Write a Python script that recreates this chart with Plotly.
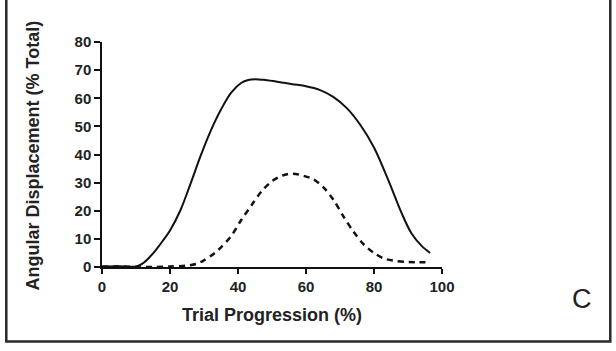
import plotly.graph_objects as go

# Data
solid_x = [0, 5, 10, 12, 14, 16, 18, 20, 23, 26, 29, 32, 35, 38, 41, 43, 45, 48, 52, 56, 60, 64, 68, 72, 76, 80, 84, 88, 91, 94, 96.5]
solid_y = [0.2, 0.3, 0.2, 1.3, 3.5, 6.3, 9.5, 13, 20, 29.5, 39.5, 48.5, 56, 62, 65.5, 66.5, 66.8, 66.5, 65.8, 65, 64.3, 63, 60.5, 56.5, 50.5, 42.5, 31.5, 19.5, 12, 7.5, 5]

dash_x = [0, 5, 10, 15, 20, 25, 28, 30, 33, 35, 38, 41, 44, 47, 50, 53, 56, 59, 62, 65, 68, 71, 74, 77, 80, 83, 86, 90, 93, 96.5]
dash_y = [0.1, 0.2, 0, 0, 0.2, 0.5, 1.2, 2.4, 4.8, 7, 11, 16.8, 22, 27, 30.5, 32.5, 33.2, 32.5, 31.3, 28.5, 24, 18, 12.5, 8, 5, 3, 2.2, 1.8, 1.7, 1.7]

x_ticks = [0, 20, 40, 60, 80, 100]
y_ticks = [0, 10, 20, 30, 40, 50, 60, 70, 80]

W, H = 616, 351
L, R, T, B = 101.7, 441.7, 42.0, 266.7  # plot area in px

fig = go.Figure()
fig.add_trace(go.Scatter(x=solid_x, y=solid_y, mode="lines",
                         line=dict(color="#111111", width=2, shape="spline", smoothing=0.9),
                         cliponaxis=False, showlegend=False))
fig.add_trace(go.Scatter(x=dash_x, y=dash_y, mode="lines",
                         line=dict(color="#111111", width=2.5, dash="6px,5px", shape="spline", smoothing=0.9),
                         cliponaxis=False, showlegend=False))

fam = "Liberation Sans, Arial, sans-serif"
font_ticks = dict(family=fam, size=15, color="#222222", weight="bold")

fig.update_xaxes(range=[0, 100], tickvals=x_ticks, showline=True, linecolor="#111111", linewidth=1.5,
                 ticks="outside", ticklen=5, tickwidth=1.5, tickcolor="#111111",
                 showgrid=False, zeroline=False, tickfont=font_ticks)
fig.update_yaxes(range=[0, 80], tickvals=y_ticks, showline=True, linecolor="#111111", linewidth=1.5,
                 ticks="outside", ticklen=6, tickwidth=1.5, tickcolor="#111111",
                 showgrid=False, zeroline=False, tickfont=font_ticks)

def px_to_paper_x(px):
    return (px - L) / (R - L)

def px_to_paper_y(py):
    return (B - py) / (B - T)

fig.add_annotation(text="<b>Trial Progression (%)</b>", x=px_to_paper_x(272), y=px_to_paper_y(315),
                   xref="paper", yref="paper", showarrow=False,
                   font=dict(family=fam, size=18, color="#222222"), xanchor="center", yanchor="middle")
fig.add_annotation(text="<b>Angular Displacement (% Total)</b>", x=px_to_paper_x(33), y=px_to_paper_y(155),
                   xref="paper", yref="paper", showarrow=False, textangle=-90,
                   font=dict(family=fam, size=18, color="#222222"), xanchor="center", yanchor="middle")
fig.add_annotation(text="C", x=px_to_paper_x(582), y=px_to_paper_y(299),
                   xref="paper", yref="paper", showarrow=False,
                   font=dict(family=fam, size=27, color="#222222"), xanchor="center", yanchor="middle")

fig.add_shape(type="rect", xref="paper", yref="paper",
              x0=px_to_paper_x(6), x1=px_to_paper_x(610), y0=px_to_paper_y(341), y1=px_to_paper_y(-3),
              line=dict(color="#2a2a2a", width=2.5), fillcolor="rgba(0,0,0,0)", layer="above")

fig.update_layout(width=W, height=H, margin=dict(l=L, r=W - R, t=T, b=H - B, pad=0),
                  paper_bgcolor="white", plot_bgcolor="white", showlegend=False)

fig.write_html("out.html")
